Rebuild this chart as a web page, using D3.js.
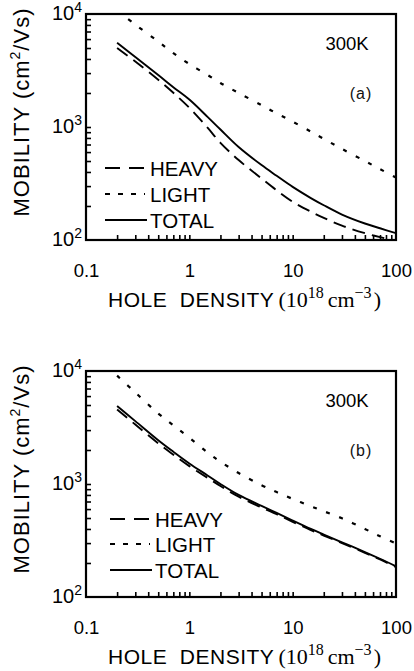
<!DOCTYPE html>
<html><head><meta charset="utf-8">
<script src="https://cdn.jsdelivr.net/npm/d3@7"></script>
<style>body{margin:0;background:#fff}svg{display:block}</style>
</head><body><svg id="c" width="414" height="671"></svg>
<script>
// ---- data (hole density in 1e18 cm^-3, mobility in cm^2/Vs) ----
const density = [0.2,0.3,0.5,0.7,1,1.5,2,3,5,7,10,15,20,30,50,70,100];
const heavyA  = [5000,3800,2620,2010,1480,985,725,510,350,275,218,178,157,134,115,106,98];
const lightA  = [10700,8050,5700,4500,3610,2890,2450,2000,1560,1320,1115,910,785,640,500,424,357];
const totalA  = [5570,4160,2880,2250,1750,1230,950,665,460,370,295,235,203,168,140,127,115];
const heavyB  = [4560,3360,2290,1820,1440,1135,960,772,620,540,463,391,350,300,246,215,184];
const lightB  = [9100,6450,4210,3300,2570,1900,1576,1250,975,848,738,635,574,497,400,345,298];
const totalB  = [4900,3600,2440,1930,1520,1190,1000,800,640,555,475,400,357,305,250,218,187];
const xTickValues = [0.1,1,10,100];
const xTickLabels = ["0.1","1","10","100"];
const yTickValues = [100,1000,10000];
const yTickExponents = ["2","3","4"];
const legendLabels = ["HEAVY","LIGHT","TOTAL"];
const panelTags = ["(a)","(b)"];
const tempLabel = "300K";

const svg = d3.select("#c");
const SANS = "'Liberation Sans', Arial, Helvetica, sans-serif";
const SERIF = "'Liberation Serif', 'Times New Roman', serif";
const dashStyles = ["13,7","4,10",null];

function minorTicks(lo, hi){
  const out=[];
  for(let e=lo;e<hi;e++) for(let m=1;m<10;m++){ out.push(m*Math.pow(10,e)); }
  out.push(Math.pow(10,hi));
  return out;
}

function panel(p){
  const x = d3.scaleLog().domain([0.1,100]).range([86,396]);
  const y = d3.scaleLog().domain([100,10000]).range([p.bottom,p.top]);
  const g = svg.append("g");
  const cid = "clip"+p.idx;
  g.append("clipPath").attr("id",cid).append("rect")
    .attr("x",86).attr("y",p.top).attr("width",310).attr("height",p.bottom-p.top);

  // bottom ticks (inside)
  const xm = minorTicks(-1,2).filter(v=>v>0.1 && v<100);
  const xa = g.append("g").attr("transform",`translate(0,${p.bottom})`)
    .call(d3.axisBottom(x).tickValues(xm).tickSizeInner(-5).tickSizeOuter(0).tickFormat(""));
  xa.select(".domain").remove();
  xa.selectAll("line").attr("stroke","#000").attr("stroke-width",1.6);
  // x labels
  const xl = g.append("g").attr("transform",`translate(0,${p.bottom})`)
    .call(d3.axisBottom(x).tickValues(xTickValues).tickFormat((d,i)=>xTickLabels[i]).tickSize(0).tickPadding(24));
  xl.select(".domain").remove();
  xl.selectAll("text").attr("font-family",SANS).attr("font-size",18.5).attr("fill","#000");

  // left ticks (inside)
  const ym = minorTicks(2,4).filter(v=>v>100 && v<10000);
  const ya = g.append("g").attr("transform","translate(86,0)")
    .call(d3.axisLeft(y).tickValues(ym).tickSizeInner(-5).tickSizeOuter(0).tickFormat(""));
  ya.select(".domain").remove();
  ya.selectAll("line").attr("stroke","#000").attr("stroke-width",1.6);
  // y labels with superscripts
  yTickValues.forEach((v,i)=>{
    const t = g.append("text").attr("x",82).attr("y",y(v)+6).attr("text-anchor","end")
      .attr("font-family",SANS).attr("font-size",20).attr("fill","#000");
    t.append("tspan").text("10");
    t.append("tspan").attr("dy",-8).attr("font-size",14).text(yTickExponents[i]);
  });

  // frame
  g.append("rect").attr("x",86).attr("y",p.top).attr("width",310).attr("height",p.bottom-p.top)
    .attr("fill","none").attr("stroke","#000").attr("stroke-width",2.2);

  // curves
  const line = d3.line().x((d,i)=>x(density[i])).y(d=>y(d)).curve(d3.curveCatmullRom.alpha(0.5));
  p.series.forEach((s,k)=>{
    const path = g.append("path").datum(s).attr("d",line).attr("fill","none")
      .attr("stroke","#000").attr("stroke-width",k===1?2.2:1.9).attr("clip-path",`url(#${cid})`);
    if(dashStyles[k]) path.attr("stroke-dasharray",dashStyles[k]);
  });

  // legend
  legendLabels.forEach((lab,k)=>{
    const ly = p.legY[k];
    const seg = g.append("line").attr("x1",p.legX).attr("x2",p.legX+(k===2?42:40))
      .attr("y1",ly).attr("y2",ly).attr("stroke","#000").attr("stroke-width",k===1?2.2:1.9);
    if(k===0) seg.attr("stroke-dasharray","15,9");
    if(k===1) seg.attr("stroke-dasharray","5,8");
    g.append("text").attr("x",p.legX+45).attr("y",ly+7.5).attr("font-family",SANS)
      .attr("font-size",20.5).attr("fill","#000").text(lab);
  });

  // annotations
  g.append("text").attr("x",347).attr("y",p.top+36).attr("text-anchor","middle")
    .attr("font-family",SANS).attr("font-size",18.5).attr("fill","#000").text(tempLabel);
  g.append("text").attr("x",361).attr("y",p.top+85).attr("text-anchor","middle")
    .attr("font-family",SANS).attr("font-size",16).attr("letter-spacing",1).attr("fill","#111").text(panelTags[p.idx]);

  // y title
  const yt = g.append("text").attr("transform",`translate(29,${(p.top+p.bottom)/2-15}) rotate(-90)`)
    .attr("text-anchor","middle").attr("font-family",SANS).attr("font-size",22).attr("letter-spacing",1).attr("fill","#000");
  yt.append("tspan").text("MOBILITY (cm");
  yt.append("tspan").attr("dy",-9).attr("font-size",14).text("2");
  yt.append("tspan").attr("dy",9).text("/Vs)");

  // x title
  const xt = g.append("text").attr("x",108).attr("y",p.bottom+67).attr("fill","#000");
  xt.append("tspan").attr("font-family",SANS).attr("font-size",21).attr("letter-spacing",0.5).text("HOLE\u00A0\u00A0DENSITY");
  xt.append("tspan").attr("font-family",SERIF).attr("font-size",22).attr("dx",4).text("(10");
  xt.append("tspan").attr("font-family",SERIF).attr("font-size",16).attr("dy",-9).text("18");
  xt.append("tspan").attr("font-family",SERIF).attr("font-size",22).attr("dy",9).attr("dx",4).text("cm");
  xt.append("tspan").attr("font-family",SERIF).attr("font-size",16).attr("dy",-9).text("\u22123");
  xt.append("tspan").attr("font-family",SERIF).attr("font-size",22).attr("dy",9).attr("dx",2).text(")");
}

panel({idx:0, top:14, bottom:240, series:[heavyA,lightA,totalA], legX:105, legY:[168,194,220]});
panel({idx:1, top:371, bottom:597, series:[heavyB,lightB,totalB], legX:110, legY:[519,544,570]});
</script></body></html>
